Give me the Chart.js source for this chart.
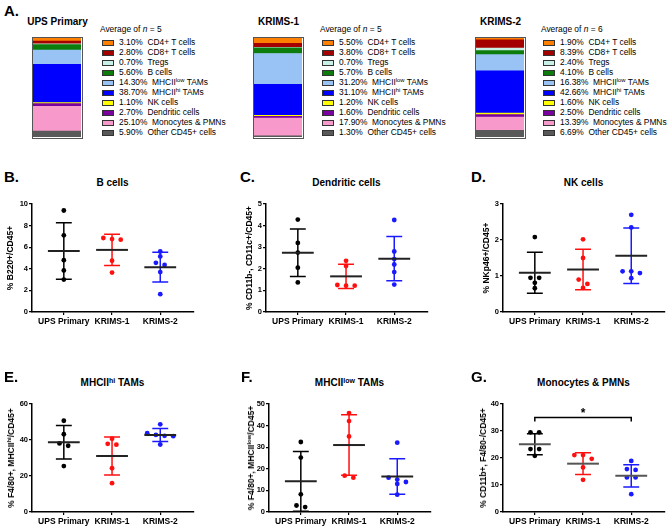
<!DOCTYPE html>
<html>
<head>
<meta charset="utf-8">
<script src="https://cdn.jsdelivr.net/npm/chart.js@4.4.0/dist/chart.umd.min.js"></script>
<style>
  body { margin: 0; width: 668px; height: 527px; position: relative; overflow: hidden; background: #fff;
         font-family: "Liberation Sans", Arial, sans-serif; color: #000; }
  .abs { position: absolute; white-space: nowrap; }
  .letter { font-weight: bold; font-size: 15px; line-height: 15px; }
  .ptitle { font-weight: bold; font-size: 10px; line-height: 12px; transform: translate(-50%, -50%); }
  .ytitle { font-weight: bold; font-size: 8.5px; transform: translate(-50%, -50%) rotate(-90deg); }
  .legend { font-size: 8.4px; line-height: 10px; }
  .swatch { position: absolute; width: 10px; height: 4px; border: 1px solid #333; }
  .bar { position: absolute; border: 1.5px solid #555; box-sizing: border-box; }
  sup { font-size: 70%; line-height: 0; vertical-align: 0.5em; }
  canvas { position: absolute; }
</style>
</head>
<body>
<script>
const FONT = "'Liberation Sans', Arial, sans-serif";

// ---- Panel A: average composition of CD45+ cells ----
const cellTypes = ["CD4+ T cells", "CD8+ T cells", "Tregs", "B cells", "MHCII^low TAMs",
  "MHCII^hi TAMs", "NK cells", "Dendritic cells", "Monocytes & PMNs", "Other CD45+ cells"];
const cellColors = ["#ff7f00", "#a50000", "#c8f0e6", "#0c7c0c", "#99c2f5",
  "#0000ff", "#ffff00", "#7a00a0", "#f79acb", "#595959"];
const cohorts = ["UPS Primary", "KRIMS-1", "KRIMS-2"];
const cohortN = [5, 5, 6];
const upsPct = [3.10, 2.80, 0.70, 5.60, 14.30, 38.70, 1.10, 2.70, 25.10, 5.90];
const krims1Pct = [5.50, 3.80, 0.70, 5.70, 31.20, 31.10, 1.20, 1.60, 17.90, 1.30];
const krims2Pct = [1.90, 8.39, 2.40, 4.10, 16.38, 42.66, 1.60, 2.50, 13.39, 6.69];

// ---- Panels B-G: per-mouse values, group mean and SD ----
const groups = ["UPS Primary", "KRIMS-1", "KRIMS-2"];

const bUps = [9.4, 7.1, 4.8, 3.85, 3.0];
const bK1 = [6.75, 6.85, 6.7, 4.75, 3.65];
const bK2 = [5.6, 5.15, 4.55, 4.35, 3.7, 1.65];
const bMean = [5.65, 5.75, 4.15];
const bSd = [2.62, 1.45, 1.38];

const cUps = [4.28, 3.2, 2.75, 2.05, 1.37];
const cK1 = [2.37, 2.13, 1.25, 1.22, 1.22];
const cK2 = [4.26, 2.8, 2.45, 2.2, 1.85, 1.27];
const cMean = [2.74, 1.65, 2.47];
const cSd = [1.1, 0.56, 1.02];

const dUps = [2.08, 0.95, 0.95, 0.81, 0.66];
const dK1 = [2.02, 1.5, 0.9, 0.78, 0.67];
const dK2 = [2.7, 2.35, 1.13, 1.13, 1.08, 0.94];
const dMean = [1.09, 1.18, 1.56];
const dSd = [0.57, 0.56, 0.77];

const eUps = [50.7, 43.2, 38.1, 36.8, 25.5];
const eK1 = [40.7, 37.9, 37.4, 24.3, 16.0];
const eK2 = [48.7, 43.8, 42.8, 42.3, 42.1, 37.5];
const eMean = [38.8, 31.1, 42.8];
const eSd = [9.3, 10.6, 3.6];

const fUps = [32.4, 25.2, 8.2, 3.0, 2.3];
const fK1 = [45.8, 42.1, 35.0, 16.8, 15.9];
const fK2 = [32.1, 15.9, 15.0, 13.9, 13.0, 8.0];
const fMean = [14.2, 31.0, 16.4];
const fSd = [13.8, 14.0, 8.2];

const gUps = [29.5, 29.5, 23.3, 23.3, 20.8];
const gK1 = [21.1, 21.1, 19.7, 16.5, 11.9];
const gK2 = [18.9, 15.9, 15.6, 12.8, 12.8, 6.6];
const gMean = [25.1, 17.9, 13.4];
const gSd = [3.9, 4.0, 4.1];
const gSigPair = [0, 2];   // UPS Primary vs KRIMS-2
const gSigY = 35;

const groupColors = ["#000000", "#ff1010", "#1a1aff"];

function add(html, cls, left, top) {
  const el = document.createElement("div");
  el.className = "abs " + cls;
  el.style.left = left + "px";
  el.style.top = top + "px";
  el.innerHTML = html;
  document.body.appendChild(el);
  return el;
}
function supText(s) {
  return s.replace(/&/g, "&amp;").replace(/\^(\w+)/, "<sup>$1</sup>");
}

// Panel A
add("A.", "letter", 4, 3);
const barLeft = [32, 253, 475];
const legendLeft = [102, 322, 543];
const pctLists = [upsPct, krims1Pct, krims2Pct];
cohorts.forEach((name, k) => {
  add(name, "ptitle", barLeft[k] + 25.5, 22);
  add("Average of <i>n</i> = " + cohortN[k], "legend", legendLeft[k] - 2, 24);
  cellTypes.forEach((t, i) => {
    const sw = document.createElement("div");
    sw.className = "swatch";
    sw.style.left = legendLeft[k] + "px";
    sw.style.top = (40 + i * 10) + "px";
    sw.style.background = cellColors[i];
    document.body.appendChild(sw);
    add(pctLists[k][i].toFixed(2) + "%&nbsp;&nbsp;" + supText(t), "legend", legendLeft[k] + 17, 37 + i * 10);
  });

  const box = document.createElement("div");
  box.className = "bar";
  box.style.left = barLeft[k] + "px";
  box.style.top = "37px";
  box.style.width = "51px";
  box.style.height = "102px";
  document.body.appendChild(box);
  const cv = document.createElement("canvas");
  cv.width = 48; cv.height = 99;
  cv.style.left = "0px"; cv.style.top = "0px";
  box.appendChild(cv);
  // stack from the bottom: last legend entry first
  const order = cellTypes.map((_, i) => i).reverse();
  new Chart(cv, {
    type: "bar",
    data: {
      labels: [name],
      datasets: order.map(i => ({
        label: cellTypes[i],
        data: [pctLists[k][i]],
        backgroundColor: cellColors[i],
        borderWidth: 0,
        barPercentage: 1,
        categoryPercentage: 1
      }))
    },
    options: {
      responsive: false, animation: false,
      layout: { padding: 0 },
      plugins: { legend: { display: false }, tooltip: { enabled: false } },
      scales: {
        x: { stacked: true, display: false },
        y: { stacked: true, display: false, min: 0, max: 100 }
      }
    }
  });
});

// scatter dot plot panels
const STEP = 0.18;
function spread(values, gi, pxPerUnit) {
  const sorted = values.slice().sort((a, b) => b - a);
  const rows = [];
  sorted.forEach(v => {
    const row = rows[rows.length - 1];
    if (row && (row[0] - v) * pxPerUnit < 4.5) row.push(v);
    else rows.push([v]);
  });
  const pts = [];
  rows.forEach(row => row.forEach((v, i) => pts.push({ x: gi + (i - (row.length - 1) / 2) * STEP, y: v })));
  return pts;
}
function sdSegments(gi, m, s) {
  const gap = { x: gi, y: null };
  return [
    { x: gi, y: m - s }, { x: gi, y: m + s }, gap,
    { x: gi - 0.165, y: m + s }, { x: gi + 0.165, y: m + s }, gap,
    { x: gi - 0.165, y: m - s }, { x: gi + 0.165, y: m - s }
  ];
}
function meanSegment(gi, m) {
  return [{ x: gi - 0.33, y: m }, { x: gi + 0.33, y: m }];
}

const starPlugin = {
  id: "sig",
  afterDatasetsDraw(chart, args, opts) {
    if (!opts.show) return;
    const { ctx, scales } = chart;
    ctx.save();
    ctx.fillStyle = "#000";
    ctx.font = "bold 12px " + FONT;
    ctx.textAlign = "center";
    ctx.textBaseline = "bottom";
    ctx.fillText("*", scales.x.getPixelForValue((gSigPair[0] + gSigPair[1]) / 2), scales.y.getPixelForValue(gSigY) + 2);
    ctx.restore();
  }
};

function dotPanel(opt) {
  const cv = document.createElement("canvas");
  cv.width = 198; cv.height = 135;
  cv.style.left = opt.left + "px";
  cv.style.top = opt.top + "px";
  document.body.appendChild(cv);
  const pxPerUnit = 108 / opt.yMax;
  const datasets = [];
  opt.sets.forEach((vals, gi) => {
    datasets.push({ data: meanSegment(gi, opt.mean[gi]), borderColor: opt.meanColor || "#222", borderWidth: 2, showLine: true, pointRadius: 0, spanGaps: false });
    datasets.push({ data: sdSegments(gi, opt.mean[gi], opt.sd[gi]), borderColor: groupColors[gi], borderWidth: 1.5, showLine: true, pointRadius: 0, spanGaps: false });
    datasets.push({ data: spread(vals, gi, pxPerUnit), backgroundColor: groupColors[gi], borderWidth: 0, pointRadius: 2.4 });
  });
  if (opt.sig) {
    const a = gSigPair[0], b = gSigPair[1], lo = gSigY - 1.5;
    datasets.push({ data: [{ x: a, y: lo }, { x: a, y: gSigY }, { x: b, y: gSigY }, { x: b, y: lo }],
      borderColor: "#000", borderWidth: 1.5, showLine: true, pointRadius: 0 });
  }
  const axisGrid = { display: true, drawOnChartArea: false, drawTicks: true, tickLength: 3, color: "#000", lineWidth: 1.2 };
  const axisBorder = { display: true, color: "#000", width: 1.5 };
  new Chart(cv, {
    type: "scatter",
    data: { datasets },
    options: {
      responsive: false, animation: false,
      layout: { padding: { top: 9, right: 3, left: 0, bottom: 0 } },
      plugins: { legend: { display: false }, tooltip: { enabled: false }, sig: { show: !!opt.sig } },
      scales: {
        x: {
          type: "linear", min: -0.66, max: 2.7,
          afterBuildTicks: s => { s.ticks = [0, 1, 2].map(v => ({ value: v })); },
          afterFit: s => { s.height = 18; },
          ticks: { callback: v => groups[v], color: "#000", autoSkip: false, maxRotation: 0, padding: 2,
                   font: { family: FONT, size: 8.5, weight: "bold" } },
          grid: axisGrid, border: axisBorder
        },
        y: {
          min: 0, max: opt.yMax,
          afterFit: s => { s.width = 32; },
          ticks: { stepSize: opt.yStep, color: "#000", padding: 1, font: { family: FONT, size: 7.5, weight: "bold" } },
          grid: axisGrid, border: axisBorder
        }
      }
    },
    plugins: [starPlugin]
  });
  add(opt.letter, "letter", opt.letterX, opt.top - 26);
  add(opt.title, "ptitle", opt.left + 32 + 0.66 * 48.5 + 48.5, opt.top - 12);
  add(opt.ytitle, "ytitle", opt.left + opt.ytX, opt.top + 63);
}

dotPanel({ left: 0, top: 195, letter: "B.", letterX: 4, title: "B cells", ytitle: "% B220+/CD45+", ytX: 10,
  sets: [bUps, bK1, bK2], mean: bMean, sd: bSd, yMax: 10, yStep: 2 });
dotPanel({ left: 234, top: 195, letter: "C.", letterX: 240, title: "Dendritic cells", ytitle: "% CD11b-, CD11c+/CD45+", ytX: 15,
  sets: [cUps, cK1, cK2], mean: cMean, sd: cSd, yMax: 5, yStep: 1 });
dotPanel({ left: 471, top: 195, letter: "D.", letterX: 471, title: "NK cells", ytitle: "% NKp46+/CD45+", ytX: 15,
  sets: [dUps, dK1, dK2], mean: dMean, sd: dSd, yMax: 3, yStep: 1 });
dotPanel({ left: 0, top: 395, letter: "E.", letterX: 4, title: "MHCII<sup>hi</sup> TAMs", ytitle: "% F4/80+, MHCII<sup>hi</sup>/CD45+", ytX: 11,
  sets: [eUps, eK1, eK2], mean: eMean, sd: eSd, yMax: 60, yStep: 20 });
dotPanel({ left: 237, top: 395, letter: "F.", letterX: 241, title: "MHCII<sup>low</sup> TAMs", ytitle: "% F4/80+, MHCII<sup>low</sup>/CD45+", ytX: 14,
  sets: [fUps, fK1, fK2], mean: fMean, sd: fSd, yMax: 50, yStep: 10 });
dotPanel({ left: 471, top: 395, letter: "G.", letterX: 471, title: "Monocytes &amp; PMNs", ytitle: "% CD11b+, F4/80-/CD45+", ytX: 12,
  sets: [gUps, gK1, gK2], mean: gMean, sd: gSd, yMax: 40, yStep: 10, sig: true, meanColor: "#555" });
</script>
</body>
</html>
